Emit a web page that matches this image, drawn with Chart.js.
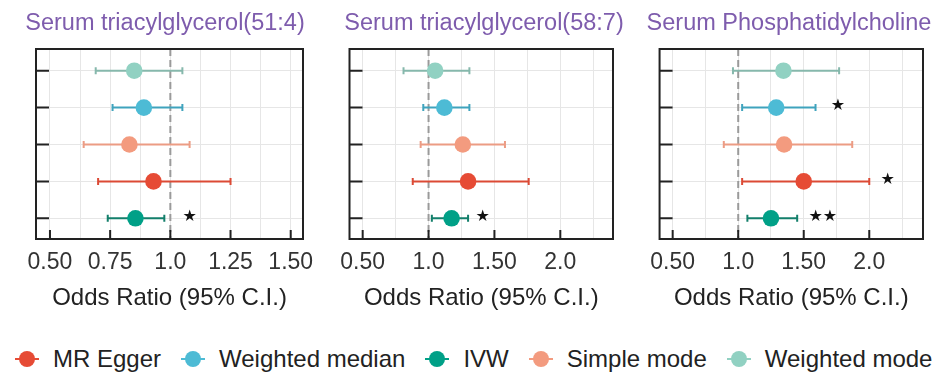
<!DOCTYPE html>
<html><head><meta charset="utf-8">
<script src="https://cdn.jsdelivr.net/npm/chart.js@4/dist/chart.umd.min.js"></script>
<style>
html,body{margin:0;padding:0;background:#fff;width:938px;height:373px;overflow:hidden;font-family:'Liberation Sans',Arial,sans-serif;}
.panel{position:absolute;top:0;}
#legend{position:absolute;left:15px;top:345px;height:27px;display:flex;align-items:center;font-size:24px;line-height:27px;color:#222;white-space:nowrap;}
.item{display:flex;align-items:center;margin-right:20px;}
.mk{position:relative;width:24px;height:16px;margin-right:14px;}
.mk .ln{position:absolute;left:0;right:0;top:7px;height:2px;}
.mk .dt{position:absolute;left:4px;top:0;width:16px;height:16px;border-radius:50%;}
</style></head><body>
<div class="panel" id="p1"><canvas id="c1"></canvas></div>
<div class="panel" id="p2"><canvas id="c2"></canvas></div>
<div class="panel" id="p3"><canvas id="c3"></canvas></div>
<div id="legend"></div>
<script>
// ---------------- DATA ----------------
const methods = ['Weighted mode', 'Weighted median', 'Simple mode', 'MR Egger', 'IVW']; // rows, top to bottom
const rowPos = [1, 2, 3, 4, 5];
const legendOrder = ['MR Egger', 'Weighted median', 'IVW', 'Simple mode', 'Weighted mode'];
const titles = ['Serum triacylglycerol(51:4)', 'Serum triacylglycerol(58:7)', 'Serum Phosphatidylcholine'];
const axisTitle = 'Odds Ratio (95% C.I.)';

// Panel 1: Serum triacylglycerol(51:4)
const or1 = [0.85, 0.89, 0.83, 0.93, 0.855];
const lo1 = [0.69, 0.76, 0.64, 0.70, 0.74];
const hi1 = [1.05, 1.05, 1.08, 1.25, 0.975];
const sig1 = ['', '', '', '', '★'];
const sigAt1 = [null, null, null, null, 1.08];

// Panel 2: Serum triacylglycerol(58:7)
const or2 = [1.05, 1.12, 1.26, 1.30, 1.175];
const lo2 = [0.81, 0.96, 0.94, 0.88, 1.025];
const hi2 = [1.31, 1.31, 1.58, 1.76, 1.30];
const sig2 = ['', '', '', '', '★'];
const sigAt2 = [null, null, null, null, 1.41];

// Panel 3: Serum Phosphatidylcholine
const or3 = [1.345, 1.29, 1.35, 1.50, 1.25];
const lo3 = [0.96, 1.03, 0.89, 1.03, 1.07];
const hi3 = [1.77, 1.59, 1.87, 2.00, 1.45];
const sig3 = ['', '★', '', '★', '★★'];
const sigAt3 = [null, 1.76, null, 2.14, 1.645];

// x axis ticks
const tickVals1 = [0.5, 0.75, 1.0, 1.25, 1.5];
const tickText1 = ['0.50', '0.75', '1.0', '1.25', '1.50'];
const tickVals2 = [0.5, 1.0, 1.5, 2.0];
const tickText2 = ['0.50', '1.0', '1.50', '2.0'];
const tickVals3 = [0.5, 1.0, 1.5, 2.0];
const tickText3 = ['0.50', '1.0', '1.50', '2.0'];
const xRange1 = [0.442, 1.551];
const xRange2 = [0.40, 2.40];
const xRange3 = [0.40, 2.41];
const gridStep1 = 0.125;
const gridStep2 = 0.25;
const gridStep3 = 0.25;
const refLine = 1.0;

// ---------------- STYLE ----------------
const pointColor = {'MR Egger':'#E64B35','Weighted median':'#4DBBD5','IVW':'#00A087','Simple mode':'#F39B7F','Weighted mode':'#91D1C2'};
const barColor = {'MR Egger':'#DC4A35','Weighted median':'#3FA3BD','IVW':'#137F6B','Simple mode':'#EC9C84','Weighted mode':'#86B8AC'};
const FONT = "'Liberation Sans', Arial, sans-serif";
const layouts = [
  {left:0,   width:330, leftGap:36, rightGap:27},
  {left:330, width:308, leftGap:16, rightGap:25},
  {left:640, width:298, leftGap:16, rightGap:15}
];
const CH = 330;

const decor = {
  id: 'decor',
  beforeDatasetsDraw(chart) {
    const {ctx, chartArea: a, scales: {x, y}} = chart;
    ctx.save();
    ctx.beginPath(); ctx.rect(a.left, a.top, a.right - a.left, a.bottom - a.top); ctx.clip();
    const xr = x.getPixelForValue(refLine);
    ctx.setLineDash([7, 4]); ctx.strokeStyle = '#9a9a9a'; ctx.lineWidth = 2;
    ctx.beginPath(); ctx.moveTo(xr, a.top); ctx.lineTo(xr, a.bottom); ctx.stroke();
    ctx.setLineDash([]);
    chart.data.datasets.forEach(ds => {
      const p = ds.data[0];
      const yy = y.getPixelForValue(p.y);
      const xl = x.getPixelForValue(p.lo), xh = x.getPixelForValue(p.hi);
      ctx.strokeStyle = ds.barColor; ctx.lineWidth = 2;
      ctx.beginPath();
      ctx.moveTo(xl, yy); ctx.lineTo(xh, yy);
      ctx.moveTo(xl, yy - 3.5); ctx.lineTo(xl, yy + 3.5);
      ctx.moveTo(xh, yy - 3.5); ctx.lineTo(xh, yy + 3.5);
      ctx.stroke();
    });
    ctx.restore();
  },
  afterDatasetsDraw(chart) {
    const {ctx, scales: {x, y}} = chart;
    const st = chart.options.plugins.decor;
    ctx.save();
    ctx.fillStyle = '#111';
    ctx.font = "16px 'DejaVu Sans', sans-serif";
    ctx.textAlign = 'center'; ctx.textBaseline = 'middle';
    st.sig.forEach((s, i) => {
      if (!s) return;
      ctx.fillText(s, x.getPixelForValue(st.sigAt[i]), y.getPixelForValue(rowPos[i]) - 1.5);
    });
    ctx.restore();
  },
  afterDraw(chart) {
    const {ctx, chartArea: a, scales: {x, y}} = chart;
    const st = chart.options.plugins.decor;
    ctx.save();
    ctx.strokeStyle = '#222'; ctx.lineWidth = 2;
    ctx.strokeRect(a.left, a.top, a.right - a.left, a.bottom - a.top);
    ctx.beginPath();
    st.major.forEach(v => { const px = x.getPixelForValue(v); ctx.moveTo(px, a.bottom); ctx.lineTo(px, a.bottom - 9); });
    rowPos.forEach(v => { const py = y.getPixelForValue(v); ctx.moveTo(a.left, py); ctx.lineTo(a.left + 13, py); });
    ctx.stroke();
    ctx.restore();
  }
};

function makeChart(idx, ors, los, his, sig, sigAt, tVals, tText, range, step) {
  const L = layouts[idx];
  const div = document.getElementById('p' + (idx + 1));
  div.style.left = L.left + 'px';
  const cv = document.getElementById('c' + (idx + 1));
  cv.width = L.width; cv.height = CH;
  const datasets = methods.map((m, i) => ({
    label: m,
    data: [{x: ors[i], y: rowPos[i], lo: los[i], hi: his[i]}],
    backgroundColor: pointColor[m],
    borderWidth: 0,
    pointRadius: 8.3,
    barColor: barColor[m]
  }));
  const gridVals = [];
  for (let v = tVals[0]; v < range[1]; v += step) gridVals.push(+v.toFixed(4));
  new Chart(cv, {
    type: 'scatter',
    data: {datasets},
    options: {
      responsive: false, animation: false, events: [],
      layout: {padding: 0},
      plugins: {
        legend: {display: false}, tooltip: {enabled: false},
        title: {display: true, text: titles[idx], color: '#7E5CAD',
          font: {family: FONT, size: 23.5, weight: 'normal', lineHeight: 1.2},
          padding: {top: 9.5, bottom: 11.3}},
        decor: {sig, sigAt, major: tVals}
      },
      scales: {
        x: {
          type: 'linear', min: range[0], max: range[1],
          afterBuildTicks: s => { s.ticks = gridVals.map(v => ({value: v})); },
          afterFit: s => { s.height = CH - 239; },
          ticks: {
            autoSkip: false, maxRotation: 0, minRotation: 0, padding: 9.5, color: '#333',
            font: {family: FONT, size: 23},
            callback: v => { const k = tVals.findIndex(t => Math.abs(t - v) < 1e-6); return k >= 0 ? tText[k] : ''; }
          },
          grid: {color: '#e6e6e6', lineWidth: 1, drawTicks: false},
          border: {display: false},
          title: {display: true, text: axisTitle, color: '#222',
            font: {family: FONT, size: 24, lineHeight: 1.2}, padding: {top: 0, bottom: 17.2}}
        },
        y: {
          type: 'linear', reverse: true, min: 0.412, max: 5.561,
          afterBuildTicks: s => { s.ticks = rowPos.map(v => ({value: v})); },
          afterFit: s => { s.width = L.leftGap; },
          ticks: {display: false},
          grid: {color: '#e6e6e6', lineWidth: 1, drawTicks: false},
          border: {display: false}
        },
        yR: {
          type: 'linear', position: 'right', display: true,
          afterFit: s => { s.width = L.rightGap; },
          ticks: {display: false},
          grid: {display: false, drawTicks: false},
          border: {display: false}
        }
      }
    },
    plugins: [decor]
  });
}

makeChart(0, or1, lo1, hi1, sig1, sigAt1, tickVals1, tickText1, xRange1, gridStep1);
makeChart(1, or2, lo2, hi2, sig2, sigAt2, tickVals2, tickText2, xRange2, gridStep2);
makeChart(2, or3, lo3, hi3, sig3, sigAt3, tickVals3, tickText3, xRange3, gridStep3);

// legend
const lg = document.getElementById('legend');
legendOrder.forEach(m => {
  const it = document.createElement('div'); it.className = 'item';
  const mk = document.createElement('span'); mk.className = 'mk';
  const ln = document.createElement('span'); ln.className = 'ln'; ln.style.background = pointColor[m];
  const dt = document.createElement('span'); dt.className = 'dt'; dt.style.background = pointColor[m];
  mk.appendChild(ln); mk.appendChild(dt);
  const tx = document.createElement('span'); tx.textContent = m;
  it.appendChild(mk); it.appendChild(tx);
  lg.appendChild(it);
});
</script>
</body></html>
